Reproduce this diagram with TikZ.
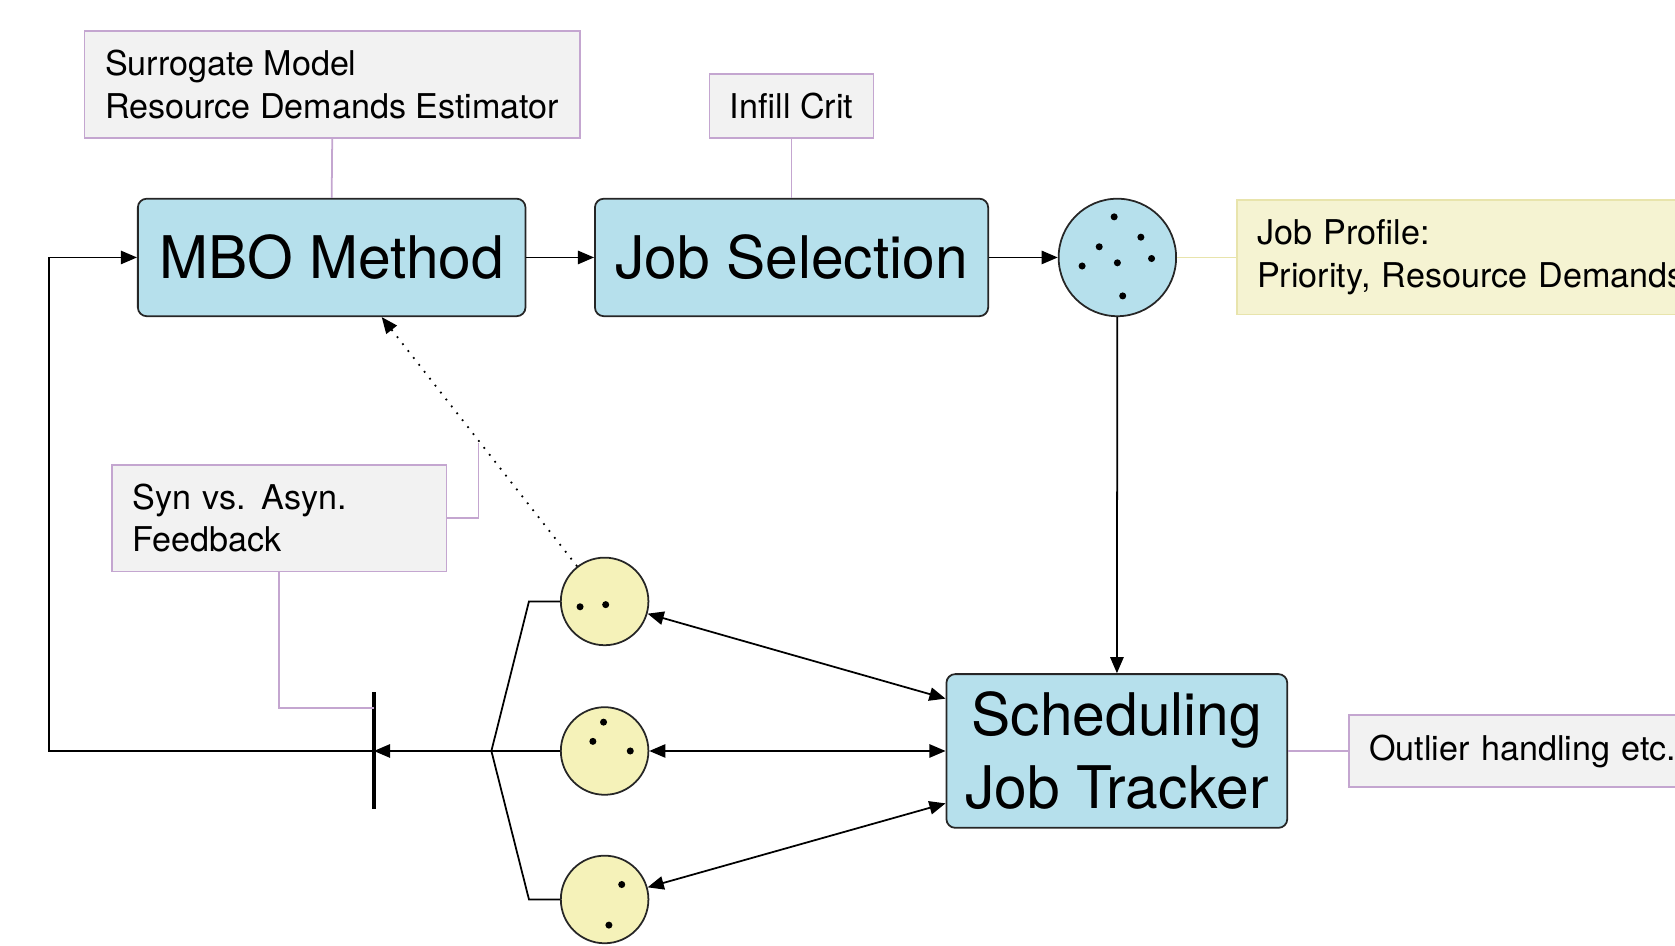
\documentclass[tikz,border=0pt]{standalone}
\usepackage{fontspec}
\setmainfont{TeX Gyre Heros}
\usetikzlibrary{arrows.meta}
\definecolor{procblue}{RGB}{182,224,236}
\definecolor{noteline}{RGB}{196,166,208}
\definecolor{notegray}{RGB}{242,242,242}
\definecolor{profyellow}{RGB}{245,243,210}
\definecolor{profline}{RGB}{232,228,172}
\definecolor{batchyellow}{RGB}{245,242,185}
\tikzset{
  procbox/.style={draw=black!85,fill=procblue,rounded corners=2.5pt,line width=0.5pt,
    inner sep=0pt,align=center,font=\fontsize{16.7}{20.7}\selectfont},
  notebox/.style={draw=noteline,fill=notegray,line width=0.5pt,inner xsep=5.8pt,inner ysep=0pt,
    align=left,font=\fontsize{9.7}{12.15}\selectfont},
  profbox/.style={notebox,draw=profline,fill=profyellow},
  jobpool/.style={circle,draw=black!85,line width=0.5pt,inner sep=0pt},
  noteedge/.style={draw=noteline,line width=0.5pt},
  jobdot/.style={fill=black}
}
\begin{document}
\begin{tikzpicture}[x=0.3037pt,y=-0.3037pt,>={Triangle[length=4.6pt,width=3.8pt]},line width=0.5pt]
  \useasboundingbox (0,0) rectangle (1568,885);
  \node[notebox,minimum width=140.9pt,minimum height=30.4pt] (surr) at (311,79) {Surrogate Model\\Resource Demands Estimator};
  \node[notebox,align=center,minimum width=46.2pt,minimum height=18.2pt] (infill) at (741,99) {Infill Crit};
  \node[notebox,text width=83.5pt,minimum height=30.4pt] (syn) at (261.5,485) {Syn vs.\hspace{0.45em}Asyn.\\Feedback};
  \node[profbox,anchor=west,text width=170pt,minimum height=32.5pt] (prof) at (1157,241) {Job Profile:\\Priority, Resource Demands};
  \node[notebox,anchor=west,text width=110pt,minimum height=20.3pt] (outl) at (1262,703) {Outlier handling etc.};
  \node[procbox,minimum width=110.2pt,minimum height=33.4pt] (mbo) at (310.5,241) {MBO Method};
  \node[procbox,minimum width=111.8pt,minimum height=33.4pt] (jsel) at (741,241) {Job Selection};
  \node[procbox,minimum width=96.9pt,minimum height=43.7pt] (sched) at (1045.5,703) {Scheduling\\Job Tracker};
  \node[jobpool,fill=procblue,minimum size=33.4pt] (pool) at (1046,241) {};
  \node[jobpool,fill=batchyellow,minimum size=24.9pt] (bat1) at (566,563) {};
  \node[jobpool,fill=batchyellow,minimum size=24.9pt] (bat2) at (566,703) {};
  \node[jobpool,fill=batchyellow,minimum size=24.9pt] (bat3) at (566,842) {};
  \coordinate (bartop) at (350,648);
  \coordinate (barbot) at (350,757);
  \coordinate (barmid) at (350,703);
  \coordinate (barnote) at (350,663);
  \coordinate (fork) at (460,703);
  \coordinate (loopcorner) at (46,703);
  \coordinate (synhook) at (448,415);
  \foreach \dx/\dy in {-3/-38,22/-19,-17/-10,32/1,-33/8,0/5,5/36}
    \fill[jobdot] ([shift={(\dx,\dy)}]pool.center) circle[radius=1pt];
  \foreach \dx/\dy in {-23/5,1/3}
    \fill[jobdot] ([shift={(\dx,\dy)}]bat1.center) circle[radius=1pt];
  \foreach \dx/\dy in {-1/-27,-11/-9,24/0}
    \fill[jobdot] ([shift={(\dx,\dy)}]bat2.center) circle[radius=1pt];
  \foreach \dx/\dy in {16/-14,4/24}
    \fill[jobdot] ([shift={(\dx,\dy)}]bat3.center) circle[radius=1pt];
  \draw[noteedge] (surr.south) -- (mbo.north);
  \draw[noteedge] (infill.south) -- (jsel.north);
  \draw[draw=profline] (pool) -- (prof);
  \draw[noteedge] (sched) -- (outl);
  \draw[->] (mbo) -- (jsel);
  \draw[->] (jsel) -- (pool);
  \draw[->] (pool) -- (sched);
  \draw[<->] (bat1) -- (sched.163);
  \draw[<->] (bat2) -- (sched.west);
  \draw[<->] (bat3) -- (sched.197);
  \draw[->,dotted] (bat1) -- (mbo.-50);
  \draw (bat1.west) -- ++(-29,0) -- (fork);
  \draw (bat3.west) -- ++(-29,0) -- (fork);
  \draw (bat2.west) -- (fork);
  \draw[->] (fork) -- (barmid);
  \draw[->] (barmid) -- (loopcorner) |- (mbo.west);
  \draw[line width=1.1pt] (bartop) -- (barbot);
  \draw[noteedge] (syn.east) -| (synhook);
  \draw[noteedge] (syn.south) |- (barnote);
\end{tikzpicture}
\end{document}
